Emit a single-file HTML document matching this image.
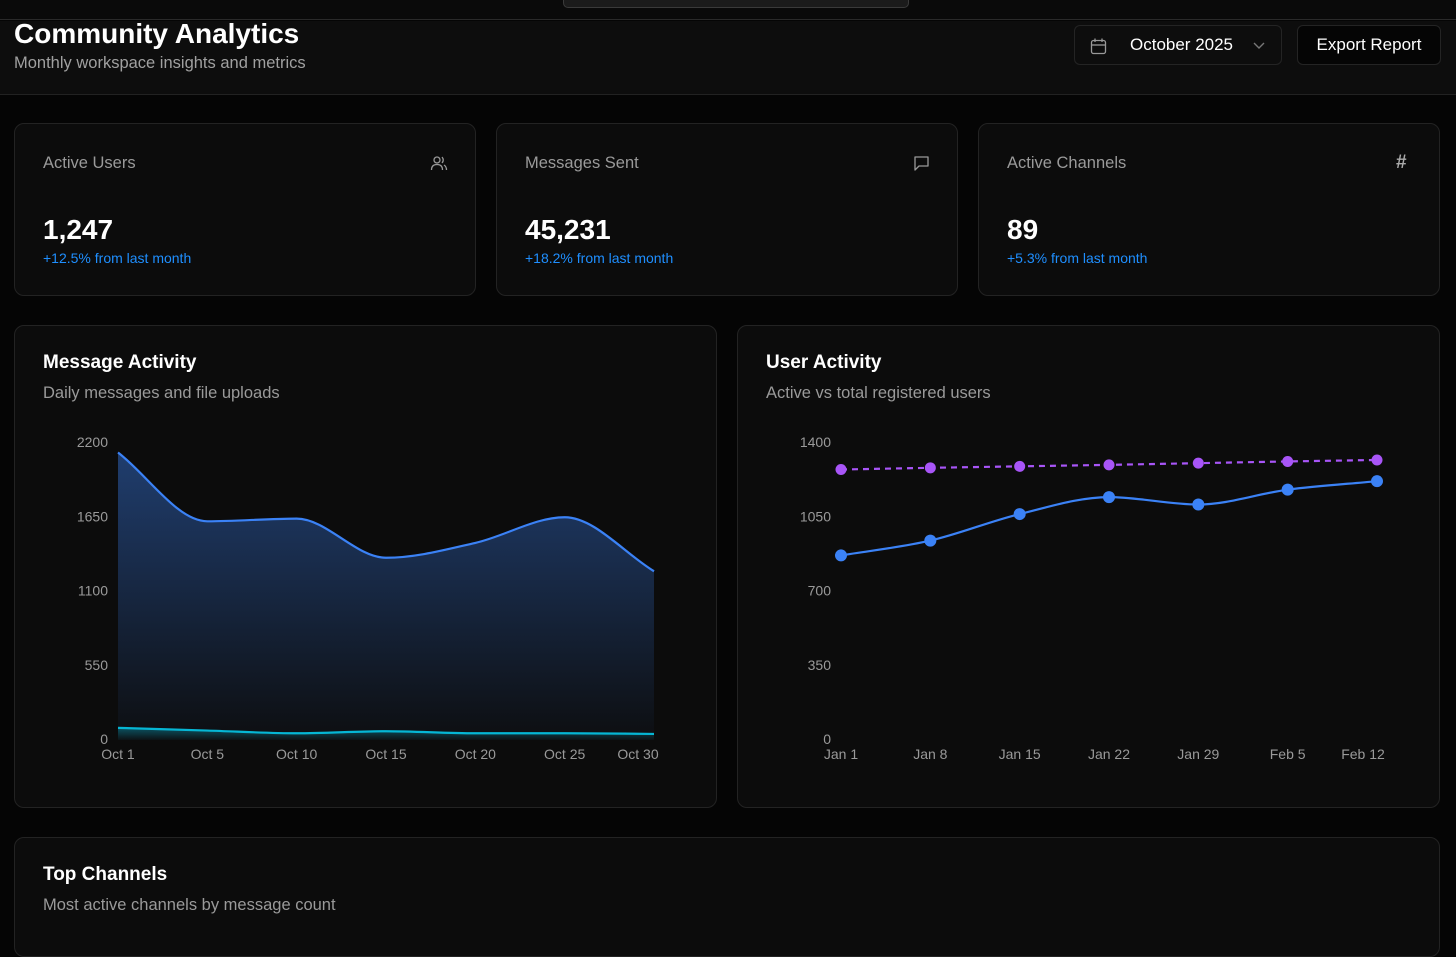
<!DOCTYPE html>
<html><head><meta charset="utf-8">
<style>
*{box-sizing:border-box;margin:0;padding:0}
body{width:1456px;height:919px;overflow:hidden;background:#050505;font-family:"Liberation Sans",sans-serif;color:#fff;position:relative}
.abs{position:absolute}
.card{position:absolute;background:#0c0c0c;border:1px solid #232323;border-radius:10px}
.lbl{color:#9a9a9a;font-size:16.5px}
.big{font-size:28px;font-weight:bold;color:#fff}
.chg{color:#1f8fff;font-size:14px}
.title{font-size:19px;font-weight:bold}
.sub{color:#9a9a9a;font-size:16.5px}
</style></head><body>
<div class="abs" style="left:0;top:0;width:1456px;height:20px;background:#0a0a0a;border-bottom:1px solid #2a2a2a"></div>
<div class="abs" style="left:563px;top:-10px;width:346px;height:18px;background:#1b1b1b;border:1px solid #3a3a3a;border-radius:5px"></div>
<div class="abs" style="left:0;top:21px;width:1456px;height:74px;background:#0d0d0d;border-bottom:1px solid #222"></div>
<div class="abs" style="left:14px;top:18px;font-size:28px;font-weight:bold">Community Analytics</div>
<div class="abs" style="left:14px;top:54px;font-size:16.5px;color:#a0a0a0">Monthly workspace insights and metrics</div>
<div class="abs" style="left:1074px;top:25px;width:208px;height:40px;border:1px solid #242424;border-radius:6px;background:#0d0d0d">
<svg class="abs" style="left:15px;top:12px" width="17" height="17" viewBox="0 0 17 17"><rect x="1.5" y="2.5" width="14" height="13" rx="2" fill="none" stroke="#999" stroke-width="1.3"/><line x1="1.5" y1="7" x2="15.5" y2="7" stroke="#999" stroke-width="1.3"/><line x1="5" y1="0.5" x2="5" y2="4" stroke="#999" stroke-width="1.3"/><line x1="12" y1="0.5" x2="12" y2="4" stroke="#999" stroke-width="1.3"/></svg>
<span class="abs" style="left:55px;top:9px;font-size:17px">October 2025</span>
<svg class="abs" style="left:178px;top:16px" width="12" height="8"><path d="M1 1 L6 6 L11 1" fill="none" stroke="#777" stroke-width="1.4"/></svg>
</div>
<div class="abs" style="left:1297px;top:25px;width:144px;height:40px;border:1px solid #242424;border-radius:6px;background:#050505;font-size:17px;text-align:center;line-height:38px">Export Report</div>

<div class="card" style="left:14px;top:123px;width:462px;height:173px">
<div class="abs lbl" style="left:28px;top:30px">Active Users</div>
<svg class="abs" style="left:415px;top:30px" width="18" height="18"><circle cx="7" cy="6" r="3" fill="none" stroke="#999" stroke-width="1.3"/><path d="M1.5 16 Q1.5 10.5 7 10.5 Q12.5 10.5 12.5 16" fill="none" stroke="#999" stroke-width="1.3"/><path d="M12 3 Q14.5 6 12 9 M14 11 Q16.5 12.5 16.5 16" fill="none" stroke="#999" stroke-width="1.3"/></svg>
<div class="abs big" style="left:28px;top:90px">1,247</div>
<div class="abs chg" style="left:28px;top:126px">+12.5% from last month</div></div>
<div class="card" style="left:496px;top:123px;width:462px;height:173px">
<div class="abs lbl" style="left:28px;top:30px">Messages Sent</div>
<svg class="abs" style="left:416px;top:31px" width="18" height="17"><path d="M2 2 H15 V11 H6 L2 15 Z" fill="none" stroke="#999" stroke-width="1.3" stroke-linejoin="round"/></svg>
<div class="abs big" style="left:28px;top:90px">45,231</div>
<div class="abs chg" style="left:28px;top:126px">+18.2% from last month</div></div>
<div class="card" style="left:978px;top:123px;width:462px;height:173px">
<div class="abs lbl" style="left:28px;top:30px">Active Channels</div>
<div class="abs" style="left:417px;top:28px;color:#aaa;font-size:19px;font-weight:bold">#</div>
<div class="abs big" style="left:28px;top:90px">89</div>
<div class="abs chg" style="left:28px;top:126px">+5.3% from last month</div></div>

<div class="card" style="left:14px;top:325px;width:703px;height:483px">
<div class="abs title" style="left:28px;top:26px">Message Activity</div>
<div class="abs sub" style="left:28px;top:58px">Daily messages and file uploads</div></div>
<div class="card" style="left:737px;top:325px;width:703px;height:483px">
<div class="abs title" style="left:28px;top:26px">User Activity</div>
<div class="abs sub" style="left:28px;top:58px">Active vs total registered users</div></div>
<div class="card" style="left:14px;top:837px;width:1426px;height:120px">
<div class="abs title" style="left:28px;top:26px">Top Channels</div>
<div class="abs sub" style="left:28px;top:58px">Most active channels by message count</div></div>

<svg class="abs" id="chart1" style="left:0;top:0" width="1456" height="919"></svg>

<script>
const msgCats=["Oct 1","Oct 5","Oct 10","Oct 15","Oct 20","Oct 25","Oct 30"];
const msgValues=[2130,1620,1640,1350,1460,1650,1250];
const fileValues=[90,70,50,65,50,50,45];
const msgTicks=[0,550,1100,1650,2200];
const userCats=["Jan 1","Jan 8","Jan 15","Jan 22","Jan 29","Feb 5","Feb 12"];
const activeUsers=[870,940,1065,1145,1110,1180,1220];
const totalUsers=[1275,1283,1290,1297,1305,1313,1320];
const userTicks=[0,350,700,1050,1400];

const NS="http://www.w3.org/2000/svg";
const svg=document.getElementById('chart1');
function mk(tag,attrs,parent){const e=document.createElementNS(NS,tag);for(const k in attrs)e.setAttribute(k,attrs[k]);(parent||svg).appendChild(e);return e;}
function monotone(pts){
  const n=pts.length;if(n<2)return "";
  const dx=[],m=[],t=[];
  for(let i=0;i<n-1;i++){dx.push(pts[i+1][0]-pts[i][0]);m.push((pts[i+1][1]-pts[i][1])/dx[i]);}
  t[0]=m[0];t[n-1]=m[n-2];
  for(let i=1;i<n-1;i++){if(m[i-1]*m[i]<=0)t[i]=0;else{const h0=dx[i-1],h1=dx[i];const p=(m[i-1]*h1+m[i]*h0)/(h0+h1);t[i]=(Math.sign(m[i-1])+Math.sign(m[i]))*Math.min(Math.abs(m[i-1]),Math.abs(m[i]),0.5*Math.abs(p));}}
  let d="M"+pts[0][0]+","+pts[0][1];
  for(let i=0;i<n-1;i++){const h=dx[i]/3;d+=" C"+(pts[i][0]+h)+","+(pts[i][1]+t[i]*h)+" "+(pts[i+1][0]-h)+","+(pts[i+1][1]-t[i+1]*h)+" "+pts[i+1][0]+","+pts[i+1][1];}
  return d;
}
const defs=mk('defs',{});
const g1=mk('linearGradient',{id:'gMsg',x1:0,y1:0,x2:0,y2:1},defs);
mk('stop',{offset:'0%','stop-color':'#3b82f6','stop-opacity':0.42},g1);
mk('stop',{offset:'100%','stop-color':'#3b82f6','stop-opacity':0.02},g1);
const g2=mk('linearGradient',{id:'gFile',x1:0,y1:0,x2:0,y2:1},defs);
mk('stop',{offset:'0%','stop-color':'#06b6d4','stop-opacity':0.4},g2);
mk('stop',{offset:'100%','stop-color':'#06b6d4','stop-opacity':0.02},g2);

function axes(x0,x1,y0,y1,maxV,ticks,cats,tickX,lastShift){
  const xs=i=>x0+i*(x1-x0)/(cats.length-1);
  const ys=v=>y0-(v/maxV)*(y0-y1);
  ticks.forEach(t=>{const e=mk('text',{x:tickX,y:ys(t)+4,'text-anchor':'end',fill:'#9a9a9a','font-size':14,'font-family':'Liberation Sans, sans-serif'});e.textContent=t;
    
    });
  cats.forEach((c,i)=>{let x=xs(i);if(i===cats.length-1)x-=lastShift;const e=mk('text',{x:x,y:y0+19,'text-anchor':'middle',fill:'#9a9a9a','font-size':14,'font-family':'Liberation Sans, sans-serif'});e.textContent=c;
    
    });
  return [xs,ys];
}
{
  const [xs,ys]=axes(118,654,740,443,2200,msgTicks,msgCats,108,16);
  const mp=msgValues.map((v,i)=>[xs(i),ys(v)]);
  const fp=fileValues.map((v,i)=>[xs(i),ys(v)]);
  const a=mk('path',{d:monotone(mp)+" L"+xs(msgCats.length-1)+","+ys(0)+" L"+xs(0)+","+ys(0)+" Z",fill:'url(#gMsg)'});
  
  
  const l=mk('path',{d:monotone(mp),fill:'none',stroke:'#3b82f6','stroke-width':2.2});
  
  
  const a2=mk('path',{d:monotone(fp)+" L"+xs(msgCats.length-1)+","+ys(0)+" L"+xs(0)+","+ys(0)+" Z",fill:'url(#gFile)'});
  
  
  const l2=mk('path',{d:monotone(fp),fill:'none',stroke:'#06b6d4','stroke-width':2.2});
  
  
}
{
  const [xs,ys]=axes(841,1377,740,443,1400,userTicks,userCats,831,14);
  const tp=totalUsers.map((v,i)=>[xs(i),ys(v)]);
  const ap=activeUsers.map((v,i)=>[xs(i),ys(v)]);
  const l=mk('path',{d:monotone(tp),fill:'none',stroke:'#a855f7','stroke-width':2.2,'stroke-dasharray':'6 5'});
  
  
  tp.forEach(p=>{const c=mk('circle',{cx:p[0],cy:p[1],r:5.5,fill:'#a855f7'});
    
    });
  const l2=mk('path',{d:monotone(ap),fill:'none',stroke:'#3b82f6','stroke-width':2.2});
  
  
  ap.forEach(p=>{const c=mk('circle',{cx:p[0],cy:p[1],r:6,fill:'#3b82f6'});
    
    });
}
</script>
</body></html>
